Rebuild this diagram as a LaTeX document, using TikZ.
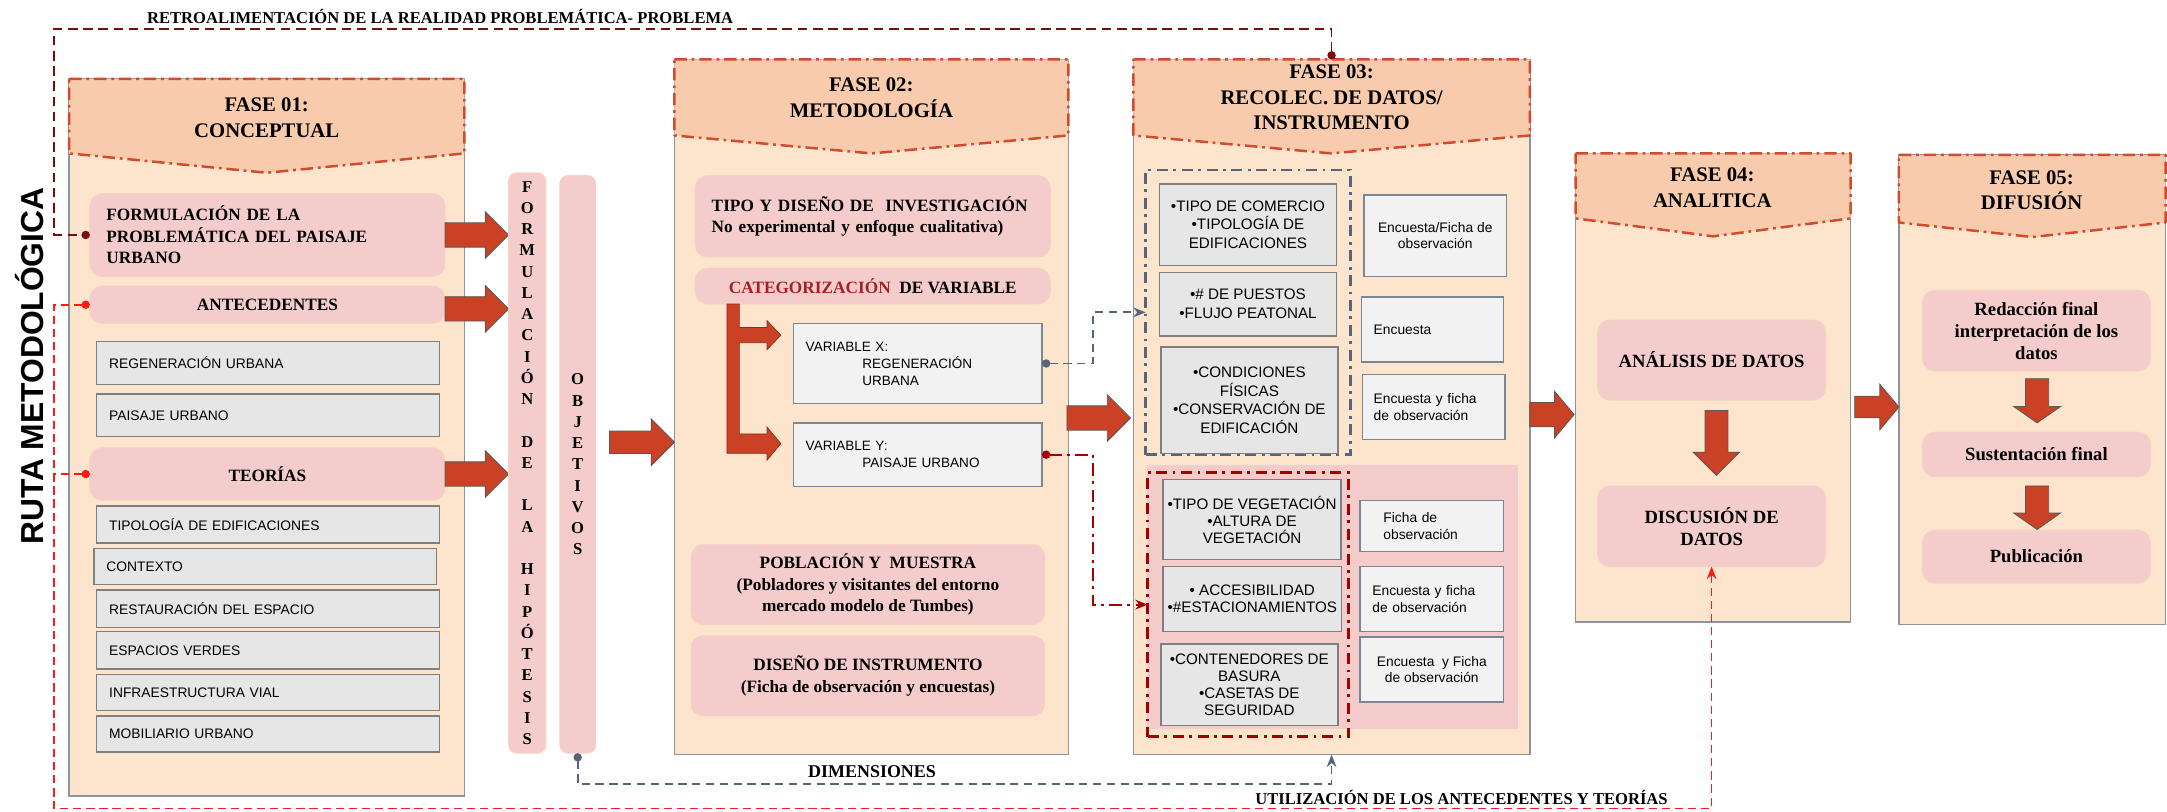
\documentclass[tikz,border=0pt]{standalone}
\usepackage{fontspec}
\setmainfont{Liberation Serif}
\setsansfont{Liberation Sans}
\usetikzlibrary{arrows.meta,shapes.arrows,calc}
\definecolor{peach}{HTML}{FCE4CD}
\definecolor{headfill}{HTML}{F8CBAD}
\definecolor{headline}{HTML}{D24B2C}
\definecolor{bodyline}{HTML}{8E949C}
\definecolor{pinkfill}{HTML}{F4CCCC}
\definecolor{pinkline}{HTML}{F7D2C2}
\definecolor{grayfill}{HTML}{E6E6E6}
\definecolor{grayline}{HTML}{7F7F7F}
\definecolor{lightfill}{HTML}{F2F2F2}
\definecolor{lightline}{HTML}{7C8695}
\definecolor{arrowred}{HTML}{CB4125}
\definecolor{fbred}{HTML}{7A0C0C}
\definecolor{usored}{HTML}{FF1A1A}
\definecolor{slate}{HTML}{56657A}
\definecolor{catred}{HTML}{A30000}
\definecolor{cattext}{HTML}{A52224}
\tikzset{
  body/.style={rectangle, draw=bodyline, line width=1.1pt, fill=peach, anchor=north west, outer sep=0pt, inner sep=0pt},
  head/.style={draw=headline, fill=headfill, line width=1.8pt, dash pattern=on 9pt off 3.5pt on 2pt off 3.5pt, line join=round},
  headtxt/.style={font=\bfseries\fontsize{15}{18.5}\selectfont, align=center},
  pinkbox/.style={rectangle, rounded corners=9pt, fill=pinkfill, draw=pinkline, line width=0.6pt, anchor=north west, outer sep=0pt, font=\bfseries\fontsize{12.5}{15.5}\selectfont, align=center},
  pinkbar/.style={pinkbox, rounded corners=6pt, font=\bfseries\fontsize{12}{15.37}\selectfont},
  bigtxt/.style={font=\bfseries\fontsize{13.5}{16}\selectfont},
  graybox/.style={rectangle, fill=grayfill, draw=grayline, line width=1pt, anchor=north west, outer sep=0pt, font=\sffamily\fontsize{10}{12}\selectfont},
  itembox/.style={graybox, align=center, font=\sffamily\fontsize{11}{13.5}\selectfont},
  lightbox/.style={rectangle, fill=lightfill, draw=lightline, line width=1pt, anchor=north west, outer sep=0pt, font=\sffamily\fontsize{10}{12}\selectfont},
  grpbox/.style={rectangle, anchor=north west, outer sep=0pt, line width=2pt, dash pattern=on 8pt off 4pt on 2pt off 4pt},
  bigarrow/.style={single arrow, fill=arrowred, draw=black!65, line width=0.6pt, inner sep=0pt, outer sep=0pt, text height=8.5pt, text depth=8.5pt, minimum height=46pt, minimum width=33pt, single arrow head extend=8pt, single arrow head indent=0pt},
  downarrow/.style={bigarrow, shape border rotate=270, text width=16pt, text height=8pt, text depth=8pt, single arrow head extend=8.5pt},
  catarrow/.style={fill=arrowred, draw=arrowred!70!black, line width=0.5pt},
  fbline/.style={draw=fbred, line width=1.3pt, dash pattern=on 7pt off 4pt},
  usoline/.style={draw=usored, line width=1.2pt, dash pattern=on 6pt off 3.5pt},
  dimline/.style={draw=slate, line width=1.3pt, dash pattern=on 6pt off 4pt},
  catline/.style={draw=catred, line width=1.6pt, dash pattern=on 9pt off 4pt on 2pt off 4pt},
  lbl/.style={font=\bfseries\fontsize{12}{14}\selectfont}
}

\begin{document}
\begin{tikzpicture}[x=1pt,y=-1pt]
\useasboundingbox (0,0) rectangle (1568,587);

% columns
\node[body, minimum width=286pt, minimum height=519pt] (f1) at (50,57) {};
\node[body, minimum width=285pt, minimum height=503pt] (f2) at (488,43) {};
\node[body, minimum width=287pt, minimum height=503pt] (f3) at (820,43) {};
\node[body, minimum width=199pt, minimum height=339pt] (f4) at (1140,111) {};
\node[body, minimum width=193pt, minimum height=340pt] (f5) at (1374,112) {};

% headers
\filldraw[head] (f1.north west) -- (f1.north east) -- ++(0,54) -- ($(f1.north)+(0,68)$) -- ($(f1.north west)+(0,54)$) -- cycle;
\filldraw[head] (f2.north west) -- (f2.north east) -- ++(0,55) -- ($(f2.north)+(0,68)$) -- ($(f2.north west)+(0,55)$) -- cycle;
\filldraw[head] (f3.north west) -- (f3.north east) -- ++(0,55) -- ($(f3.north)+(0,68)$) -- ($(f3.north west)+(0,55)$) -- cycle;
\filldraw[head] (f4.north west) -- (f4.north east) -- ++(0,47) -- ($(f4.north)+(0,60)$) -- ($(f4.north west)+(0,47)$) -- cycle;
\filldraw[head] (f5.north west) -- (f5.north east) -- ++(0,49) -- ($(f5.north)+(0,59.5)$) -- ($(f5.north west)+(0,49)$) -- cycle;
\node[headtxt] (h1) at (193,85) {FASE 01:\\CONCEPTUAL};
\node[headtxt] (h2) at (630.5,70.5) {FASE 02:\\METODOLOGÍA};
\node[headtxt] (h3) at (963.5,70.5) {FASE 03:\\RECOLEC. DE DATOS/\\INSTRUMENTO};
\node[headtxt] (h4) at (1239,136) {FASE 04:\\ANALITICA};
\node[headtxt] (h5) at (1470,137.5) {FASE 05:\\DIFUSIÓN};

% fase 01
\node[pinkbox, align=left, text width=233pt, minimum width=257pt, minimum height=60pt] (formul) at (65,140) {FORMULACIÓN DE LA\\PROBLEMÁTICA DEL PAISAJE\\URBANO};
\node[pinkbox, minimum width=257pt, minimum height=27pt] (antec) at (65,207) {ANTECEDENTES};
\node[graybox, align=left, text width=230pt, minimum width=248pt, minimum height=31pt] (regen) at (70,247) {REGENERACIÓN URBANA};
\node[graybox, align=left, text width=230pt, minimum width=248pt, minimum height=31pt] (paisaje) at (70,285) {PAISAJE URBANO};
\node[pinkbox, minimum width=257pt, minimum height=38pt] (teorias) at (65,324) {TEORÍAS};
\node[graybox, align=left, text width=230pt, minimum width=248pt, minimum height=27pt] (tipol) at (70,366) {TIPOLOGÍA DE EDIFICACIONES};
\node[graybox, align=left, text width=230pt, minimum width=248pt, minimum height=26pt] (contexto) at (68,397) {CONTEXTO};
\node[graybox, align=left, text width=230pt, minimum width=248pt, minimum height=27pt] (restaur) at (70,427) {RESTAURACIÓN DEL ESPACIO};
\node[graybox, align=left, text width=230pt, minimum width=248pt, minimum height=27pt] (espacios) at (70,457) {ESPACIOS VERDES};
\node[graybox, align=left, text width=230pt, minimum width=248pt, minimum height=26pt] (infra) at (70,488) {INFRAESTRUCTURA VIAL};
\node[graybox, align=left, text width=230pt, minimum width=248pt, minimum height=26pt] (mobil) at (70,518) {MOBILIARIO URBANO};

\node[bigarrow, anchor=tail] (a1) at (formul.east) {};
\node[bigarrow, anchor=tail] (a2) at ($(antec.east)+(0,3)$) {};
\node[bigarrow, anchor=tail] (a3) at (teorias.east) {};

% hipotesis y objetivos
\node[pinkbar, minimum width=27pt, minimum height=420pt] (hipo) at (368,125) {F\\O\\R\\M\\U\\L\\A\\C\\I\\Ó\\N\\[15.4pt]D\\E\\[15.4pt]L\\A\\[15.4pt]H\\I\\P\\Ó\\T\\E\\S\\I\\S};
\node[pinkbar, minimum width=26pt, minimum height=418pt] (objet) at (405,127) {O\\B\\J\\E\\T\\I\\V\\O\\S};
\node[bigarrow, anchor=tail, minimum height=47pt, text height=7.8pt, text depth=7.8pt, single arrow head extend=8.7pt] (a4) at (441,320) {};

% fase 02
\node[pinkbox, align=left, text width=233pt, minimum width=257pt, minimum height=59pt] (tipo) at (503,127) {TIPO Y DISEÑO DE~ INVESTIGACIÓN\\No experimental y enfoque cualitativa)};
\node[pinkbox, minimum width=257pt, minimum height=26pt] (categ) at (503,194) {{\color{cattext}CATEGORIZACIÓN}~ DE VARIABLE};
\filldraw[catarrow] (526,220) -- (535,220) -- (535,237) -- (555,237) -- (555,232) -- (565,242.5) -- (555,253) -- (555,248) -- (535,248) -- (535,314) -- (555,314) -- (555,309) -- (565,321) -- (555,333) -- (555,328) -- (526,328) -- cycle;
\node[lightbox, align=left, text width=162pt, minimum width=180pt, minimum height=58pt, font=\sffamily\fontsize{9.8}{12.3}\selectfont] (varx) at (574,234) {VARIABLE X:\\\hspace*{41pt}REGENERACIÓN\\\hspace*{41pt}URBANA};
\node[lightbox, align=left, text width=162pt, minimum width=180pt, minimum height=46pt, font=\sffamily\fontsize{9.8}{12.3}\selectfont] (vary) at (574,306) {VARIABLE Y:\\\hspace*{41pt}PAISAJE URBANO};
\node[pinkbox, minimum width=256pt, minimum height=58pt] (pobl) at (500,394) {POBLACIÓN Y~ MUESTRA\\(Pobladores y visitantes del entorno\\mercado modelo de Tumbes)};
\node[pinkbox, minimum width=256pt, minimum height=58pt] (diseno) at (500,460) {DISEÑO DE INSTRUMENTO\\(Ficha de observación y encuestas)};
\node[bigarrow, anchor=tail] (a5) at (772,302.5) {};

% fase 03
\node[grpbox, draw=slate, minimum width=148pt, minimum height=206pt] (grpA) at (829,123) {};
\node[itembox, minimum width=128pt, minimum height=59pt] (comercio) at (839,133) {•TIPO DE COMERCIO\\•TIPOLOGÍA DE\\EDIFICACIONES};
\node[itembox, minimum width=128pt, minimum height=46pt] (puestos) at (839,197) {•\# DE PUESTOS\\•FLUJO PEATONAL};
\node[itembox, minimum width=128pt, minimum height=77pt] (condic) at (840,251) {•CONDICIONES\\FÍSICAS\\•CONSERVACIÓN DE\\EDIFICACIÓN};
\node[lightbox, align=center, minimum width=103pt, minimum height=59pt] (inst1) at (987,141) {Encuesta/Ficha de\\observación};
\node[lightbox, align=left, text width=85pt, minimum width=103pt, minimum height=47pt] (inst2) at (985,215) {Encuesta};
\node[lightbox, align=left, text width=87pt, minimum width=103pt, minimum height=47pt] (inst3) at (986,271) {Encuesta y ficha\\de observación};
\node[rectangle, fill=pinkfill, anchor=north west, inner sep=0pt, minimum width=268pt, minimum height=190.4pt] (pinkarea) at (830,336.6) {};
\node[grpbox, draw=catred, minimum width=145.5pt, minimum height=191pt] (grpB) at (830.5,342) {};
\node[itembox, minimum width=128.5pt, minimum height=58pt, font=\sffamily\fontsize{11}{12.2}\selectfont] (veget) at (841.5,347) {•TIPO DE VEGETACIÓN\\•ALTURA DE\\VEGETACIÓN};
\node[itembox, minimum width=128.5pt, minimum height=47pt, font=\sffamily\fontsize{11}{12.2}\selectfont] (acces) at (841.5,410) {• ACCESIBILIDAD\\•\#ESTACIONAMIENTOS};
\node[itembox, minimum width=128pt, minimum height=59pt, font=\sffamily\fontsize{11}{12.2}\selectfont] (conten) at (840,466) {•CONTENEDORES DE\\BASURA\\•CASETAS DE\\SEGURIDAD};
\node[lightbox, align=left, text width=70pt, minimum width=104pt, minimum height=37pt] (inst4) at (984,362) {Ficha de\\observación};
\node[lightbox, align=left, text width=86pt, minimum width=104pt, minimum height=47pt] (inst5) at (984,410) {Encuesta y ficha\\de observación};
\node[lightbox, align=center, minimum width=104pt, minimum height=47pt] (inst6) at (984,461) {Encuesta~ y Ficha\\de observación};
\node[bigarrow, anchor=tail, minimum height=32pt, single arrow tip angle=100] (a6) at (1107,300) {};

% fase 04
\node[pinkbox, bigtxt, minimum width=165pt, minimum height=58pt] (analisis) at (1156,231.5) {ANÁLISIS DE DATOS};
\node[pinkbox, bigtxt, minimum width=165pt, minimum height=58.4pt] (discusion) at (1156,351.6) {DISCUSIÓN DE\\DATOS};
\node[downarrow, anchor=tail, minimum height=47pt] (a8) at (1242,297) {};
\node[bigarrow, anchor=tail, minimum height=32pt, text height=7.5pt, text depth=7.5pt, single arrow head extend=8.7pt, single arrow tip angle=100] (a7) at (1342,294.5) {};

% fase 05
\node[pinkbox, bigtxt, minimum width=165pt, minimum height=58.5pt] (redacc) at (1391,210) {Redacción final\\interpretación de los\\datos};
\node[pinkbox, bigtxt, minimum width=165pt, minimum height=32.4pt] (susten) at (1391,312.6) {Sustentación final};
\node[pinkbox, bigtxt, minimum width=165pt, minimum height=38.5pt] (public) at (1391,383.5) {Publicación};
\node[downarrow, anchor=tail, minimum height=32pt, minimum width=34pt, single arrow tip angle=110] (a9) at (1474,274) {};
\node[downarrow, anchor=tail, minimum height=31.5pt, minimum width=34pt, single arrow tip angle=110] (a10) at (1474,351.6) {};

% labels
\node[font=\sffamily\bfseries\fontsize{23}{23}\selectfont, rotate=90] (ruta) at (21.5,265) {RUTA METODOLÓGICA};
\node[lbl] (retro) at (318.5,12) {RETROALIMENTACIÓN DE LA REALIDAD PROBLEMÁTICA- PROBLEMA};
\node[lbl, font=\bfseries\fontsize{13}{15}\selectfont] (dimlbl) at (631,558) {DIMENSIONES};
\node[lbl] (usolbl) at (1057.5,577) {UTILIZACIÓN DE LOS ANTECEDENTES Y TEORÍAS};

% connectors
\coordinate (fbcorner) at (39,21);
\coordinate (usocorner) at (39,585);
\coordinate (dimcorner) at (418,567.5);
\draw[fbline, {Circle[length=6pt]}-{Circle[length=6pt]}] (f3.north) |- (fbcorner) |- (formul.west);
\draw[usoline, {Circle[length=6pt]}-{Stealth[length=9pt,width=7pt]}] (antec.west) -- (antec.west -| usocorner) -- (usocorner) -| (discusion.south);
\draw[usoline, {Circle[length=6pt]}-] (teorias.west) -- (teorias.west -| usocorner);
\draw[dimline, {Circle[length=6pt]}-{Stealth[length=9pt,width=7pt]}] (objet.south) -- (objet.south |- dimcorner) -| (f3.south);
\draw[dimline, {Circle[length=6pt]}-{Stealth[length=9pt,width=7pt]}] (varx.east) -- ++(37,0) |- (grpA.west);
\draw[catline, {Circle[length=6pt]}-{Stealth[length=9pt,width=7pt]}] (vary.east) -- ++(37,0) |- (grpB.west);
\end{tikzpicture}
\end{document}
